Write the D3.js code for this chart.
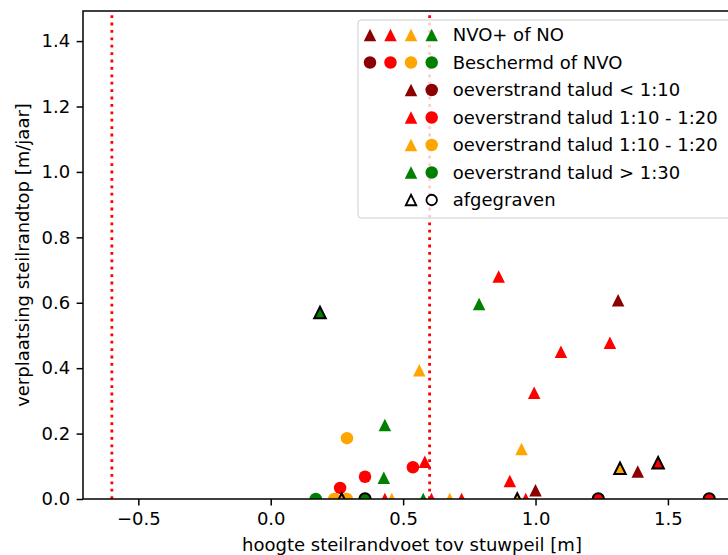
<!DOCTYPE html>
<html>
<head>
<meta charset="utf-8">
<script src="https://cdn.jsdelivr.net/npm/d3@7"></script>
<style>
	body { margin: 0; background: #fff; }
	svg { display: block; font-family: "DejaVu Sans", sans-serif; }
</style>
</head>
<body>
<div id="grafiek"></div>
<script>
// -----DATA-----

// NVO+ of NO (driehoeken)
var nvoHoogte = [0.186, 0.787, 0.861, 1.312, 1.281, 1.096, 0.995, 0.561, 0.947, 0.431, 0.427, 0.582, 0.903,
	1.000, 1.319, 1.386, 1.463, 0.268, 0.431, 0.457, 0.576, 0.607, 0.676, 0.721, 0.931, 0.963];
var nvoVerplaatsing = [0.570, 0.596, 0.680, 0.608, 0.478, 0.450, 0.325, 0.394, 0.153, 0.226, 0.065, 0.114, 0.055,
	0.027, 0.094, 0.084, 0.111, 0, 0, 0, 0, 0, 0, 0, 0, 0];
var nvoTalud = [3, 3, 1, 0, 1, 1, 1, 2, 2, 3, 3, 1, 1, 0, 2, 0, 1, 2, 1, 2, 3, 1, 2, 1, 2, 1];
var nvoAfgegraven = [1, 0, 0, 0, 0, 0, 0, 0, 0, 0, 0, 0, 0, 0, 1, 0, 1, 1, 0, 0, 0, 0, 0, 0, 1, 0];

// Beschermd of NVO (cirkels)
var beschHoogte = [0.170, 0.240, 0.287, 0.262, 0.356, 0.356, 0.537, 0.288, 1.237, 1.656];
var beschVerplaatsing = [0, 0, 0, 0.034, 0, 0.068, 0.097, 0.186, 0, 0];
var beschTalud = [3, 2, 2, 1, 3, 1, 1, 2, 1, 1];
var beschAfgegraven = [0, 0, 0, 0, 1, 0, 0, 0, 1, 1];

var taludKlassen = ["oeverstrand talud < 1:10", "oeverstrand talud 1:10 - 1:20",
	"oeverstrand talud 1:10 - 1:20", "oeverstrand talud > 1:30"];
var grenzen = [-0.6, 0.6];
var yTicks = [0, 0.2, 0.4, 0.6, 0.8, 1.0, 1.2, 1.4];
var xTicks = [-0.5, 0, 0.5, 1.0, 1.5];

// -----OPZET-----
var width = 728,
	height = 555,
	links = 83,
	rechts = 741,
	boven = 11,
	onder = 499,
	markerSize = 12.5,
	fontSize = "18px",
	tick = 6.4;

var svg = d3.select("#grafiek").append("svg")
	.attr("width", width)
	.attr("height", height);

var x = d3.scaleLinear().domain([-0.709, 1.776]).range([links, rechts]);
var y = d3.scaleLinear().domain([0, 1.492]).range([onder, boven]);
var kleur = d3.scaleOrdinal().domain([0, 1, 2, 3]).range(["#8b0000", "#ff0000", "#ffa500", "#008000"]);

svg.append("clipPath").attr("id", "clip")
	.append("rect")
	.attr("x", links).attr("y", boven)
	.attr("width", rechts - links).attr("height", onder - boven);

var plot = svg.append("g").attr("clip-path", "url(#clip)");

// verticale grenslijnen
plot.selectAll("line.grens")
	.data(grenzen)
	.enter().append("line")
	.attr("class", "grens")
	.attr("x1", function (d) { return x(d); })
	.attr("x2", function (d) { return x(d); })
	.attr("y1", onder)
	.attr("y2", boven)
	.attr("stroke", "red")
	.attr("stroke-width", 2.8)
	.attr("stroke-dasharray", "2.8,4.6");

// driehoek, punt naar boven
function driehoekPad(s) {
	var h = s / 2;
	return "M0," + (-h) + "L" + h + "," + h + "L" + (-h) + "," + h + "Z";
}

var beschData = beschHoogte.map(function (d, i) {
	return { x: d, y: beschVerplaatsing[i], talud: beschTalud[i], afg: beschAfgegraven[i] };
});
var nvoData = nvoHoogte.map(function (d, i) {
	return { x: d, y: nvoVerplaatsing[i], talud: nvoTalud[i], afg: nvoAfgegraven[i] };
});

plot.selectAll("circle.besch")
	.data(beschData)
	.enter().append("circle")
	.attr("class", "besch")
	.attr("cx", function (d) { return x(d.x); })
	.attr("cy", function (d) { return y(d.y); })
	.attr("r", function (d) { return d.afg ? markerSize / 2 - 0.5 : markerSize / 2; })
	.attr("fill", function (d) { return kleur(d.talud); })
	.attr("stroke", function (d) { return d.afg ? "black" : "none"; })
	.attr("stroke-width", 2);

plot.selectAll("path.nvo")
	.data(nvoData)
	.enter().append("path")
	.attr("class", "nvo")
	.attr("d", function (d) { return driehoekPad(d.afg ? markerSize - 1 : markerSize); })
	.attr("transform", function (d) { return "translate(" + x(d.x) + "," + y(d.y) + ")"; })
	.attr("fill", function (d) { return kleur(d.talud); })
	.attr("stroke", function (d) { return d.afg ? "black" : "none"; })
	.attr("stroke-width", 2)
	.attr("stroke-linejoin", "miter");

// -----ASSEN-----
var xAs = d3.axisBottom(x).tickValues(xTicks).tickSize(tick).tickPadding(tick)
	.tickFormat(function (d) { return d3.format(".1f")(d).replace("-", "\u2212"); });
var yAs = d3.axisLeft(y).tickValues(yTicks).tickSize(tick).tickPadding(tick)
	.tickFormat(d3.format(".1f"));

var gx = svg.append("g").attr("transform", "translate(0," + onder + ")").call(xAs);
var gy = svg.append("g").attr("transform", "translate(" + links + ",0)").call(yAs);

[gx, gy].forEach(function (g) {
	g.select(".domain").remove();
	g.selectAll(".tick line").attr("stroke", "black").attr("stroke-width", 1.5);
	g.selectAll(".tick text").attr("fill", "black").style("font-size", fontSize)
		.style("font-family", "'DejaVu Sans', sans-serif");
});

// kader
svg.append("rect")
	.attr("x", links).attr("y", boven)
	.attr("width", rechts - links).attr("height", onder - boven)
	.attr("fill", "none")
	.attr("stroke", "black")
	.attr("stroke-width", 1.5);

// as-labels
svg.append("text")
	.attr("x", (links + rechts) / 2)
	.attr("y", 551)
	.attr("text-anchor", "middle")
	.style("font-size", fontSize)
	.text("hoogte steilrandvoet tov stuwpeil [m]");

svg.append("text")
	.attr("transform", "translate(29," + (boven + onder) / 2 + ") rotate(-90)")
	.attr("text-anchor", "middle")
	.style("font-size", fontSize)
	.text("verplaatsing steilrandtop [m/jaar]");

// -----LEGENDA-----
var legenda = svg.append("g").attr("class", "legenda");
legenda.append("rect")
	.attr("x", 358).attr("y", 20)
	.attr("width", 377).attr("height", 198)
	.attr("rx", 3)
	.attr("fill", "white")
	.attr("fill-opacity", 0.8)
	.attr("stroke", "#cccccc")
	.attr("stroke-width", 1);

var rijY = function (i) { return 35 + i * 27.5; };
var kolomX = [370, 390.5, 411, 431.7];
var tekstX = 452.7;

function legTekst(i, t) {
	legenda.append("text")
		.attr("x", tekstX).attr("y", rijY(i))
		.attr("dy", "0.36em")
		.style("font-size", fontSize)
		.text(t);
}

// rij 1 en 2: alle kleuren
[0, 1, 2, 3].forEach(function (k) {
	legenda.append("path")
		.attr("d", driehoekPad(markerSize))
		.attr("transform", "translate(" + kolomX[k] + "," + rijY(0) + ")")
		.attr("fill", kleur(k));
	legenda.append("circle")
		.attr("cx", kolomX[k]).attr("cy", rijY(1))
		.attr("r", markerSize / 2)
		.attr("fill", kleur(k));
});
legTekst(0, "NVO+ of NO");
legTekst(1, "Beschermd of NVO");

// talud klassen
taludKlassen.forEach(function (t, k) {
	legenda.append("path")
		.attr("d", driehoekPad(markerSize))
		.attr("transform", "translate(" + kolomX[2] + "," + rijY(k + 2) + ")")
		.attr("fill", kleur(k));
	legenda.append("circle")
		.attr("cx", kolomX[3]).attr("cy", rijY(k + 2))
		.attr("r", markerSize / 2)
		.attr("fill", kleur(k));
	legTekst(k + 2, t);
});

// afgegraven
legenda.append("path")
	.attr("d", driehoekPad(markerSize - 2))
	.attr("transform", "translate(" + kolomX[2] + "," + rijY(6) + ")")
	.attr("fill", "white").attr("stroke", "black").attr("stroke-width", 1.8);
legenda.append("circle")
	.attr("cx", kolomX[3]).attr("cy", rijY(6))
	.attr("r", markerSize / 2 - 1)
	.attr("fill", "white").attr("stroke", "black").attr("stroke-width", 1.8);
legTekst(6, "afgegraven");
</script>
</body>
</html>
